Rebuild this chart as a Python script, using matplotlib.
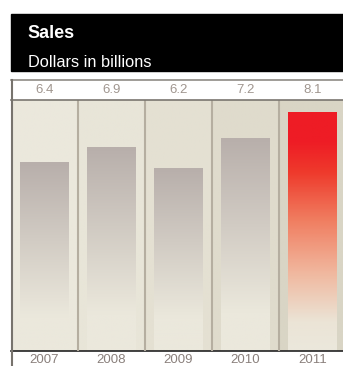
import numpy as np
import matplotlib.pyplot as plt
from matplotlib.colors import LinearSegmentedColormap
from matplotlib.patches import Rectangle
from matplotlib.lines import Line2D

## Data ##
years = ['2007', '2008', '2009', '2010', '2011']
sales = [6.4, 6.9, 6.2, 7.2, 8.1]
value_labels = ['6.4', '6.9', '6.2', '7.2', '8.1']

plt.rcParams['font.family'] = ['Liberation Sans', 'DejaVu Sans']

W, H = 343, 366
fig = plt.figure(figsize=(W / 100, H / 100), dpi=100)
fig.patch.set_facecolor('white')

def fx(x):
    return x / W

def fy(y):
    return 1 - y / H

#### Header ####
fig.patches.append(Rectangle((fx(11), fy(71)), fx(332), 57 / H,
                             transform=fig.transFigure, color='black', zorder=0))
fig.text(fx(27.5), fy(38.5), 'Sales', color='white', fontsize=13, fontweight='bold', va='baseline')
fig.text(fx(27.5), fy(67), 'Dollars in billions', color='white', fontsize=11.8, va='baseline')

#### Main chart area ####
cream = '#ebe8dc'
col_bg = ['#ebe8dc', '#e8e5d8', '#e4e0d2', '#dfdbcc', '#d9d5c5']
ytop = 251 / 29.5
ax = fig.add_axes([fx(11), fy(351), fx(332), 251 / H])
ax.set_xlim(-0.5, -0.5 + 332 / 67)
ax.set_ylim(0, ytop)

for i, c in enumerate(col_bg):
    cm = LinearSegmentedColormap.from_list('bg', [cream if i == 0 else c, c, c])
    grad = np.linspace(0, 1, 50).reshape(1, -1)
    ax.imshow(grad, extent=(i - 0.5, i + 0.5, 0, ytop), cmap=cm, aspect='auto', zorder=1)
    ax.axvline(i + 0.5, color='#b5aea0', lw=1.5, zorder=3)

bw = 49 / 67
gray_cm = LinearSegmentedColormap.from_list('gray', [(0, cream), (0.18, cream), (1, '#b8afab')])
red_cm = LinearSegmentedColormap.from_list('red', [(0, cream), (0.12, '#ebe4d6'), (0.32, '#f0b9a0'),
                                                    (0.55, '#f07d60'), (0.75, '#ee3a2c'),
                                                    (0.88, '#ee1c25'), (1, '#ee1c25')])
for i, v in enumerate(sales):
    grad = np.linspace(0, 1, 200).reshape(-1, 1)
    cm = red_cm if i == len(sales) - 1 else gray_cm
    ax.imshow(grad, extent=(i - bw / 2, i + bw / 2, 0, v), origin='lower',
              cmap=cm, aspect='auto', zorder=2)

ax.set_xticks(range(len(years)))
ax.set_xticklabels(years, color='#8a807c', fontsize=9.5)
ax.tick_params(axis='x', length=0, pad=2.5)
ax.set_yticks([])
for s in ['top', 'right', 'left']:
    ax.spines[s].set_visible(False)
ax.spines['bottom'].set_color('#222222')
ax.spines['bottom'].set_linewidth(1.2)

#### Value strip ####
sx = fig.add_axes([fx(11), fy(100), fx(332), 21 / H])
sx.set_xlim(ax.get_xlim())
sx.set_ylim(0, 1)
sx.set_xticks([])
sx.set_yticks([])
for s in sx.spines.values():
    s.set_visible(False)
for i, lab in enumerate(value_labels):
    sx.text(i, 0.5, lab, ha='center', va='center', color='#a0968f', fontsize=9.5)

# borders
fig.lines.append(Line2D([fx(11), 1], [fy(79.5), fy(79.5)], transform=fig.transFigure,
                        color='#8f8b85', lw=1.2))
fig.lines.append(Line2D([fx(11), 1], [fy(100), fy(100)], transform=fig.transFigure,
                        color='#7a766f', lw=1.2))
fig.lines.append(Line2D([fx(11.5), fx(11.5)], [0, fy(79.5)], transform=fig.transFigure,
                        color='#77736d', lw=1.5))

fig.savefig('out.png', dpi=100)
